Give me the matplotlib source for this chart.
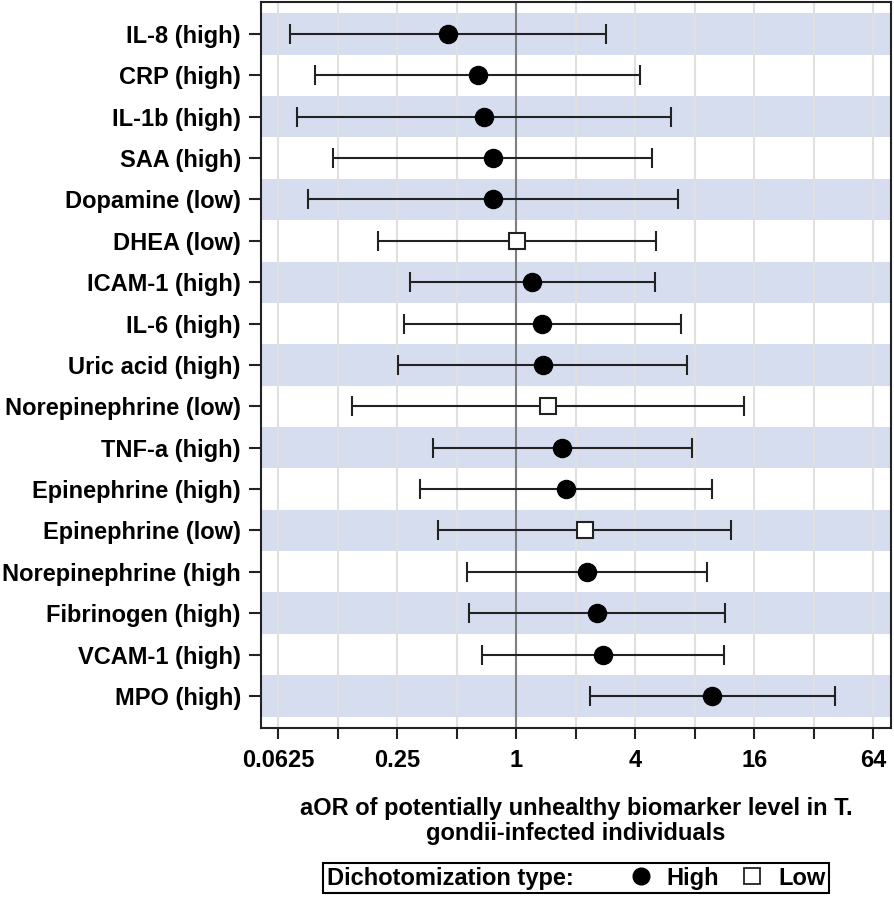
import numpy as np
import matplotlib
matplotlib.use("Agg")
import matplotlib.pyplot as plt
from matplotlib.lines import Line2D
from matplotlib.offsetbox import HPacker
from matplotlib.ticker import FixedLocator, FixedFormatter, NullFormatter

plt.rcParams['font.family'] = ['Liberation Sans', 'DejaVu Sans']
plt.rcParams['font.weight'] = 'bold'
plt.rcParams['axes.labelweight'] = 'bold'

# values (adjusted odds ratio and 95% CI)
biomarkers = ["IL-8 (high)", "CRP (high)", "IL-1b (high)", "SAA (high)",
              "Dopamine (low)", "DHEA (low)", "ICAM-1 (high)", "IL-6 (high)",
              "Uric acid (high)", "Norepinephrine (low)", "TNF-a (high)",
              "Epinephrine (high)", "Epinephrine (low)", "Norepinephrine (high",
              "Fibrinogen (high)", "VCAM-1 (high)", "MPO (high)"]
dich_type = ["High", "High", "High", "High", "High", "Low", "High", "High",
             "High", "Low", "High", "High", "Low", "High", "High", "High", "High"]
aor = [0.451, 0.640, 0.686, 0.762, 0.765, 1.01, 1.20, 1.35, 1.36, 1.44,
       1.71, 1.78, 2.22, 2.27, 2.57, 2.73, 9.77]
ci_low = [0.0717, 0.0964, 0.0774, 0.1183, 0.0885, 0.200, 0.289, 0.270, 0.252,
          0.147, 0.377, 0.325, 0.404, 0.563, 0.579, 0.668, 2.35]
ci_high = [2.83, 4.23, 6.09, 4.84, 6.60, 5.11, 5.01, 6.81, 7.33, 14.2,
           7.71, 9.77, 12.2, 9.22, 11.4, 11.2, 40.7]

major_ticks = [0.0625, 0.25, 1, 4, 16, 64]
major_labels = ["0.0625", "0.25", "1", "4", "16", "64"]
minor_ticks = [0.125, 0.5, 2, 8, 32]

band_color = "#D5DDEF"
line_color = "#222222"

fig = plt.figure(figsize=(8.94, 8.97), dpi=100)
ax = fig.add_axes([0.2919, 0.1887, 0.7044, 0.8094])

aor = np.array(aor)
ci_low = np.array(ci_low)
ci_high = np.array(ci_high)
ypos = np.arange(len(biomarkers))
is_high = np.array([t == "High" for t in dich_type])

# alternating bands
for i in ypos[::2]:
    ax.axhspan(i - 0.5, i + 0.5, color=band_color, lw=0, zorder=0)

ax.axvline(1, color="#808080", lw=1.5, zorder=2)

ax.errorbar(aor, ypos, xerr=[aor - ci_low, ci_high - aor], fmt="none",
            ecolor=line_color, elinewidth=1.5, capsize=7.5, capthick=1.5, zorder=3)
ax.plot(aor[is_high], ypos[is_high], "o", color="black", markersize=13, zorder=4)
ax.plot(aor[~is_high], ypos[~is_high], "s", mfc="white", mec=line_color,
        mew=1.5, markersize=12, zorder=4)

ax.set_xscale("log", base=2)
ax.set_xlim(2 ** -4.29, 2 ** 6.29)
ax.xaxis.set_major_locator(FixedLocator(major_ticks))
ax.xaxis.set_major_formatter(FixedFormatter(major_labels))
ax.xaxis.set_minor_locator(FixedLocator(minor_ticks))
ax.xaxis.set_minor_formatter(NullFormatter())
ax.set_axisbelow("line")
ax.grid(which="both", axis="x", color="#E0E0E0", lw=1.5)

ax.set_yticks(ypos)
ax.set_yticklabels(biomarkers)
ax.set_ylim(16.77, -0.78)

ax.tick_params(axis="x", which="both", length=8, width=1.5, color=line_color,
               labelsize=17, pad=7)
ax.tick_params(axis="y", length=8.5, width=1.5, color=line_color,
               labelsize=17, pad=6)
for s in ax.spines.values():
    s.set_linewidth(1.5)
    s.set_color(line_color)

ax.set_xlabel("aOR of potentially unhealthy biomarker level in T.\ngondii-infected individuals",
              fontsize=17, fontweight="bold", labelpad=18, linespacing=1.15)

handles = [Line2D([], [], marker="o", ls="none", color="black", markersize=12),
           Line2D([], [], marker="s", ls="none", mfc="white", mec=line_color,
                  mew=1.3, markersize=11.5)]
leg = fig.legend(handles, ["High", "Low"], title="Dichotomization type:", ncol=2,
                 loc="center", bbox_to_anchor=(576 / 894, 1 - 878 / 897),
                 fontsize=17, title_fontproperties={"size": 17, "weight": "bold"},
                 frameon=True, fancybox=False, edgecolor="black", framealpha=1,
                 borderpad=0.15, handlelength=1.0, handletextpad=0.6,
                 columnspacing=0.9, borderaxespad=0)
leg.get_frame().set_linewidth(1.5)
# put the title on the left of the entries instead of above them
old_box = leg._legend_box
new_box = HPacker(pad=old_box.pad, sep=40, align="center",
                  children=old_box.get_children())
new_box.set_figure(fig)
new_box.set_offset(leg._findoffset)
leg._legend_box = new_box

fig.savefig("out.png", dpi=100)
